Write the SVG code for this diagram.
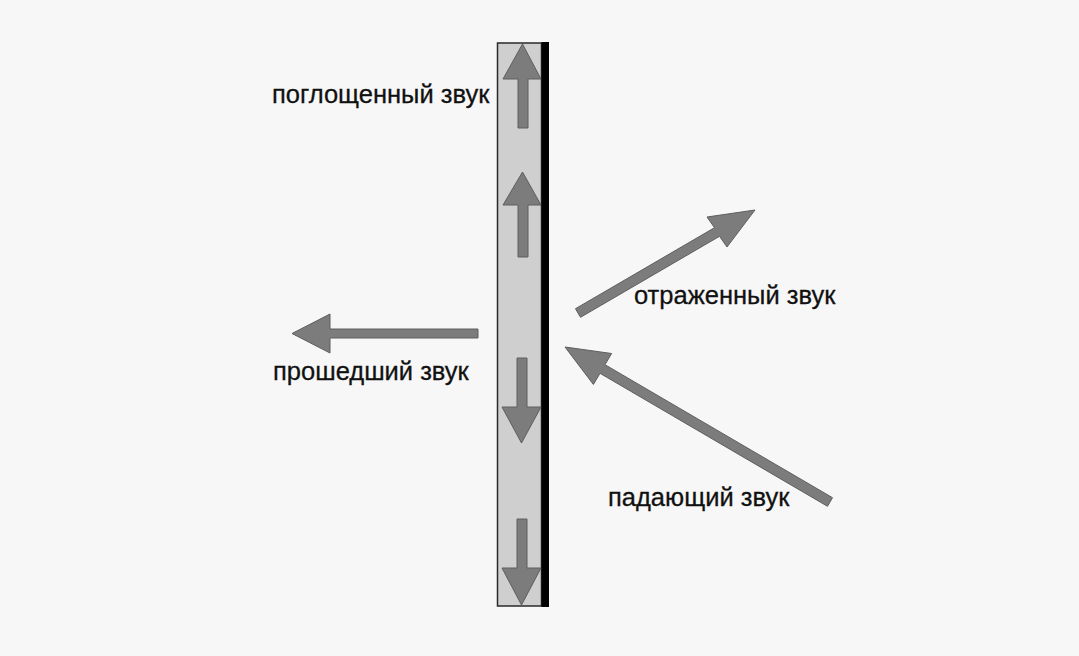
<svg xmlns="http://www.w3.org/2000/svg" width="1079" height="656" viewBox="0 0 1079 656">
<style>
.arr{fill:#7c7c7c;stroke:#5e5e5e;stroke-width:1;stroke-linejoin:round}
.lbl{font-family:"Liberation Sans",Arial,sans-serif;font-size:25.5px;fill:#111;stroke:#111;stroke-width:0.3}
</style>
<rect width="1079" height="656" fill="#f7f7f7"/>
<g id="panel">
<rect x="497.5" y="43" width="44" height="563" fill="#cfcfcf" stroke="#2a2a2a" stroke-width="1.5"/>
<rect x="541.5" y="42" width="7.5" height="565" fill="#000"/>
</g>
<g id="absorbed">
<polygon class="arr" points="518,128 518,79 503,79 522.5,44 541,79 528,79 528,128"/>
<polygon class="arr" points="518,257 518,205 503,205 522.5,172 541,205 528,205 528,257"/>
<polygon class="arr" points="517,358 517,407 502,407 521.5,443 541,407 527,407 527,358"/>
<polygon class="arr" points="517,519 517,568 502,568 521.5,605 541,568 527,568 527,519"/>
<text class="lbl" x="272" y="103">поглощенный звук</text>
</g>
<g id="reflected">
<text class="lbl" x="634" y="304">отраженный звук</text>
</g>
<g id="transmitted">
<text class="lbl" x="273" y="380">прошедший звук</text>
</g>
<g id="incident">
<text class="lbl" x="608" y="506">падающий звук</text>
</g>
<g id="connectors">
<polygon class="arr" points="575.5,308.7 714.5,227.7 707,217 755,210 727,247 719.5,236.3 580.5,317.3"/>
<polygon class="arr" points="827.5,506.3 600,373.3 593.4,384.5 565,347 611.6,353.5 605,364.7 832.5,497.7"/>
<polygon class="arr" points="478,329 330,329 330,314 292,333.5 330,353 330,338 478,338"/>
</g>
</svg>
